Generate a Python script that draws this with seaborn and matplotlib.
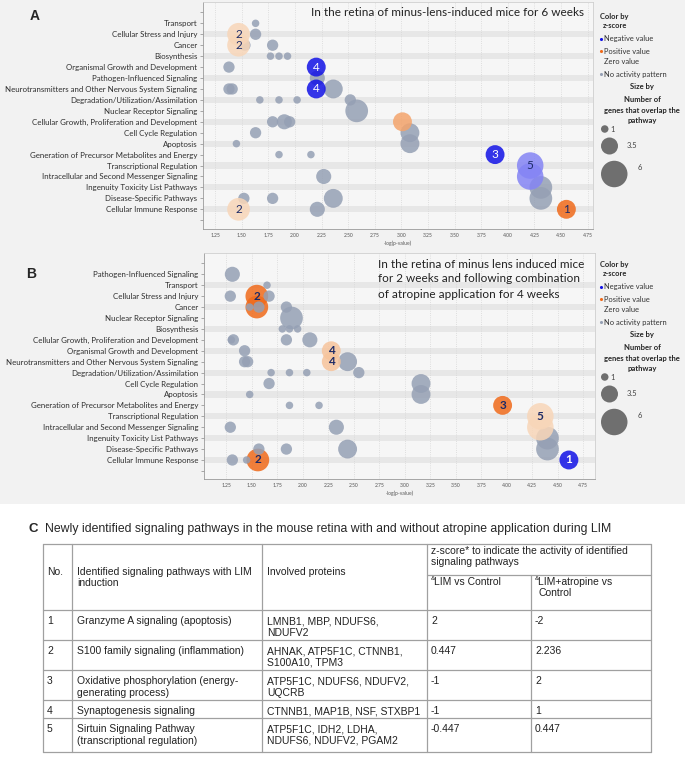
import numpy as np
import pandas as pd
import matplotlib
matplotlib.use("Agg")
import matplotlib.pyplot as plt
from matplotlib.patches import Rectangle
import seaborn as sns

DPI = 100
W, H = 685, 758

# ── categories (row order differs between the two panels) ─────────
ROWS_A = ["Transport", "Cellular Stress and Injury", "Cancer", "Biosynthesis",
          "Organismal Growth and Development", "Pathogen-Influenced Signaling",
          "Neurotransmitters and Other Nervous System Signaling",
          "Degradation/Utilization/Assimilation", "Nuclear Receptor Signaling",
          "Cellular Growth, Proliferation and Development", "Cell Cycle Regulation",
          "Apoptosis", "Generation of Precursor Metabolites and Energy",
          "Transcriptional Regulation", "Intracellular and Second Messenger Signaling",
          "Ingenuity Toxicity List Pathways", "Disease-Specific Pathways",
          "Cellular Immune Response"]
ROWS_B = ["Pathogen-Influenced Signaling", "Transport", "Cellular Stress and Injury",
          "Cancer", "Nuclear Receptor Signaling", "Biosynthesis",
          "Cellular Growth, Proliferation and Development",
          "Organismal Growth and Development",
          "Neurotransmitters and Other Nervous System Signaling",
          "Degradation/Utilization/Assimilation", "Cell Cycle Regulation", "Apoptosis",
          "Generation of Precursor Metabolites and Energy", "Transcriptional Regulation",
          "Intracellular and Second Messenger Signaling",
          "Ingenuity Toxicity List Pathways", "Disease-Specific Pathways",
          "Cellular Immune Response"]

# ── panel A bubbles (row index into ROWS_A, -log p, genes, z-score, label) ──
A_ROW = [0, 1, 2, 2, 3, 3, 3, 4, 5, 6, 6, 6, 7, 7, 7, 7, 8, 9, 9, 9, 10, 10, 11, 11,
         12, 12, 14, 15, 16, 16, 16, 16, 17,
         1, 2, 17, 4, 6, 9, 12, 14, 13, 17]
A_LOGP = [1.63, 1.63, 1.53, 1.79, 1.77, 1.85, 1.93, 1.38, 2.21, 1.38, 1.41, 2.36,
          1.67, 1.85, 2.02, 2.52, 2.58, 1.79, 1.90, 1.95, 1.63, 3.08, 1.45, 3.08,
          1.85, 2.15, 2.27, 4.31, 1.52, 1.79, 2.36, 4.31, 2.21,
          1.47, 1.47, 1.47, 2.20, 2.20, 3.01, 3.88, 4.21, 4.21, 4.55]
A_GENES = [1, 2, 2, 2, 1, 1, 1, 2, 3, 2, 2, 4, 1, 1, 1, 2, 5, 2, 3, 2, 2, 4, 1, 4,
           1, 1, 3, 5, 2, 2, 4, 5, 3,
           5, 5, 5, 4, 4, 4, 4, 6, 6, 4]
A_Z = [np.nan] * 33 + [0.447, 0.447, 0.447, -1, -1, 1.342, -1, -0.447, -0.447, 2]
A_LABEL = [""] * 33 + ["2", "2", "2", "4", "4", "", "3", "", "5", "1"]

# ── panel B bubbles ───────────────────────────────────────────────
B_ROW = [3, 2, 17,
         0, 1, 2, 2, 3, 3, 3, 4, 5, 5, 5, 6, 6, 6, 6, 7, 8, 8, 8, 9, 9, 9, 9,
         10, 10, 11, 11, 12, 12, 14, 14, 15, 16, 16, 16, 16, 17, 17,
         7, 8, 12, 14, 13, 17]
B_LOGP = [1.55, 1.55, 1.56,
          1.31, 1.65, 1.29, 1.67, 1.48, 1.57, 1.84, 1.89, 1.80, 1.87, 1.95,
          1.30, 1.32, 1.84, 2.07, 1.43, 1.43, 1.46, 2.44, 1.69, 1.87, 2.04, 2.55,
          1.67, 3.16, 1.48, 3.16, 1.87, 2.16, 1.29, 2.33, 4.40, 1.57, 1.84, 2.44,
          4.40, 1.31, 1.45,
          2.28, 2.28, 3.96, 4.33, 4.33, 4.61]
B_GENES = [5, 5, 5,
           3, 1, 2, 2, 1, 2, 2, 5, 1, 1, 1, 1, 2, 2, 3, 2, 2, 2, 4, 1, 1, 1, 2,
           2, 4, 1, 4, 1, 1, 2, 3, 5, 2, 2, 4, 5, 2, 1,
           4, 4, 4, 6, 6, 4]
B_Z = [2.236, 2.236, 2.236] + [np.nan] * 38 + [1, 1, 2, 0.447, 0.447, -2]
B_LABEL = ["", "2", "2"] + [""] * 38 + ["4", "4", "3", "", "5", "1"]

# ── table C ───────────────────────────────────────────────────────
TAB_NO = ["1", "2", "3", "4", "5"]
TAB_PATHWAY = ["Granzyme A signaling (apoptosis)",
               "S100 family signaling (inflammation)",
               "Oxidative phosphorylation (energy-\ngenerating process)",
               "Synaptogenesis signaling",
               "Sirtuin Signaling Pathway\n(transcriptional regulation)"]
TAB_PROTEINS = ["LMNB1, MBP, NDUFS6,\nNDUFV2",
                "AHNAK, ATP5F1C, CTNNB1,\nS100A10, TPM3",
                "ATP5F1C, NDUFS6, NDUFV2,\nUQCRB",
                "CTNNB1, MAP1B, NSF, STXBP1",
                "ATP5F1C, IDH2, LDHA,\nNDUFS6, NDUFV2, PGAM2"]
TAB_Z_LIM = ["2", "0.447", "-1", "-1", "-0.447"]
TAB_Z_ATR = ["-2", "2.236", "2", "1", "0.447"]

PALETTE = {"none": "#95a0b4", "neg": "#1212e6", "neg_weak": "#8484f4",
           "pos_weak": "#f8d6b8", "pos_mid": "#f7c49c", "pos_high": "#f4a46c",
           "pos": "#f06a1a"}


def z_class(z):
    if np.isnan(z):
        return "none"
    if z <= -1:
        return "neg"
    if z < 0:
        return "neg_weak"
    if z < 0.9:
        return "pos_weak"
    if z < 1.2:
        return "pos_mid"
    if z < 1.5:
        return "pos_high"
    return "pos"


def bubble_area(n):
    d_px = 7.5 + 3.8 * (n - 1)
    return (d_px * 72 / DPI) ** 2


def box(px_left, px_top, px_right, px_bottom):
    return [px_left / W, 1 - px_bottom / H, (px_right - px_left) / W,
            (px_bottom - px_top) / H]


sns.set_theme(style="white")
plt.rcParams["font.family"] = ["Lato", "DejaVu Sans"]

fig = plt.figure(figsize=(W / DPI, H / DPI), dpi=DPI)
fig.patch.set_facecolor("white")
fig.add_artist(Rectangle((0, 1 - 504 / H), 1, 504 / H, transform=fig.transFigure,
                         color="#f2f2f2", lw=0, zorder=-10))


def draw_panel(ax, rows, row, logp, genes, z, labels, xlim, ylim, weight):
    df = pd.DataFrame({"row": row, "logp": logp, "genes": genes, "z": z, "label": labels})
    df["activity"] = [z_class(v) for v in df["z"]]
    ax.set_facecolor("#f6f6f6")
    for i in range(1, len(rows), 2):
        ax.axhspan(i - 0.28, i + 0.28, color="#e7e7e7", lw=0, zorder=0)
    sns.scatterplot(data=df, x="logp", y="row", hue="activity", palette=PALETTE,
                    size="genes", sizes={n: bubble_area(n) for n in df["genes"].unique()},
                    alpha=0.85, linewidth=0, legend=False, ax=ax, zorder=3)
    for _, r in df[df["label"] != ""].iterrows():
        col = "white" if r["z"] <= -1 else "#1c2a66"
        ax.text(r["logp"], r["row"], r["label"], ha="center", va="center",
                fontsize=8.5, color=col, fontweight=weight, zorder=5)
    ticks = np.arange(1.25, 4.76, 0.25)
    ax.set_xticks(ticks)
    ax.set_xticklabels([f"{t:.2f}" for t in ticks], fontsize=3.6, color="#555555")
    ax.set_yticks(range(-1, len(rows) + 1))
    ax.set_yticklabels([""] + rows + [""], fontsize=5.7, color="#2e2e2e")
    ax.tick_params(axis="x", length=0, pad=3)
    ax.tick_params(axis="y", length=2.5, width=0.5, color="#888888", pad=1.5, left=True)
    ax.grid(axis="x", color="#d6d6d6", ls=":", lw=0.6)
    ax.set_xlim(*xlim)
    ax.set_ylim(*ylim)
    ax.set_xlabel("-log(p-value)", fontsize=3.6, color="#555555", labelpad=2)
    ax.set_ylabel("")
    for s in ax.spines.values():
        s.set_color("#cfcfcf")
        s.set_linewidth(0.6)
    ax.spines["left"].set_color("#9a9a9a")
    ax.spines["bottom"].set_color("#9a9a9a")


ax_a = fig.add_axes(box(203, 2, 593, 229))
draw_panel(ax_a, ROWS_A, A_ROW, A_LOGP, A_GENES, A_Z, A_LABEL,
           (1.136, 4.80), (18.8, -1.95), "normal")
ax_b = fig.add_axes(box(204, 253, 595, 479))
draw_panel(ax_b, ROWS_B, B_ROW, B_LOGP, B_GENES, B_Z, B_LABEL,
           (1.032, 4.866), (18.74, -1.95), "bold")

# ── overlay in pixel coordinates: letters, notes, legends, table ───
ov = fig.add_axes([0, 0, 1, 1], zorder=5)
ov.set_xlim(0, W)
ov.set_ylim(H, 0)
ov.axis("off")
ov.patch.set_alpha(0)

ov.text(35, 16, "A", fontsize=10, fontweight="bold", family="Liberation Sans",
        ha="center", va="center")
ov.text(31, 274, "B", fontsize=10, fontweight="bold", family="Liberation Sans",
        ha="center", va="center")
ov.text(311, 13, "In the retina of minus-lens-induced mice for 6 weeks",
        fontsize=8.5, color="#222222", va="center")
for k, line in enumerate(["In the retina of minus lens induced mice",
                          "for 2 weeks and following combination",
                          "of atropine application for 4 weeks"]):
    ov.text(378, 264 + 15 * k, line, fontsize=8.5, color="#222222", va="center")


def draw_legend(dy):
    ov.text(600, 16 + dy, "Color by", fontsize=5.4, fontweight="bold", va="center")
    ov.text(603, 25 + dy, "z-score", fontsize=5.4, fontweight="bold", va="center")
    items = [(39, "Negative value", PALETTE["neg"]), (51, "Positive value", PALETTE["pos"]),
             (62, "Zero value", None), (74, "No activity pattern", PALETTE["none"])]
    for y, txt, col in items:
        if col is not None:
            ov.scatter([601.5], [y + dy], s=5, color=col, lw=0)
        ov.text(604, y + dy, txt, fontsize=5.4, color="#333333", va="center")
    for y, txt in [(87, "Size by"), (99, "Number of"), (110, "genes that overlap the"),
                   (121, "pathway")]:
        ov.text(642, y + dy, txt, fontsize=5.5, fontweight="bold", ha="center", va="center")
    sizes = [1, 3.5, 6]
    diam = [7.5 + 3.8 * (n - 1) for n in sizes]
    ov.scatter([601 + d / 2 for d in diam], [129 + dy, 146 + dy, 174 + dy],
               s=[bubble_area(n) for n in sizes], color="#6f6f6f", lw=0)
    for (x, y), txt in zip([(613, 129), (632, 146), (640, 168)], ["1", "3.5", "6"]):
        ov.text(x, y + dy, txt, fontsize=5.5, color="#444444", ha="center", va="center")


draw_legend(0)
draw_legend(248)

# ── table C ───────────────────────────────────────────────────────
tf = "Liberation Sans"
ov.text(33, 529, "C", fontsize=9.5, fontweight="bold", family=tf, va="center", ha="center")
ov.text(45, 529, "Newly identified signaling pathways in the mouse retina with and "
        "without atropine application during LIM", fontsize=8.8, family=tf, va="center")

lc, lw = "#a0a0a0", 0.9
row_lines = [544, 610, 640, 670, 700, 718, 752]
for y in row_lines:
    ov.plot([43, 651], [y, y], color=lc, lw=lw)
ov.plot([427, 651], [575, 575], color=lc, lw=lw)
for x in [43, 72, 262, 427, 651]:
    ov.plot([x, x], [544, 752], color=lc, lw=lw)
ov.plot([531, 531], [575, 752], color=lc, lw=lw)

fs = 7.5


def cell(x, y, txt):
    for k, line in enumerate(txt.split("\n")):
        ov.text(x, y + 11 * k, line, fontsize=fs, family=tf, color="#222222", va="center")


cell(47, 572, "No.")
cell(77, 572, "Identified signaling pathways with LIM\ninduction")
cell(267, 572, "Involved proteins")
cell(431, 551, "z-score* to indicate the activity of identified\nsignaling pathways")
ov.text(431, 579, "&", fontsize=4.5, family=tf, color="#222222", va="center")
cell(434.5, 582, "LIM vs Control")
ov.text(535, 579, "&", fontsize=4.5, family=tf, color="#222222", va="center")
cell(538.5, 582, "LIM+atropine vs\nControl")

for i in range(len(TAB_NO)):
    y = row_lines[i + 1] + 11.5
    cell(47, y, TAB_NO[i])
    cell(77, y, TAB_PATHWAY[i])
    cell(267, y, TAB_PROTEINS[i])
    cell(431, y, TAB_Z_LIM[i])
    cell(535, y, TAB_Z_ATR[i])

fig.savefig("out.png", dpi=DPI)
